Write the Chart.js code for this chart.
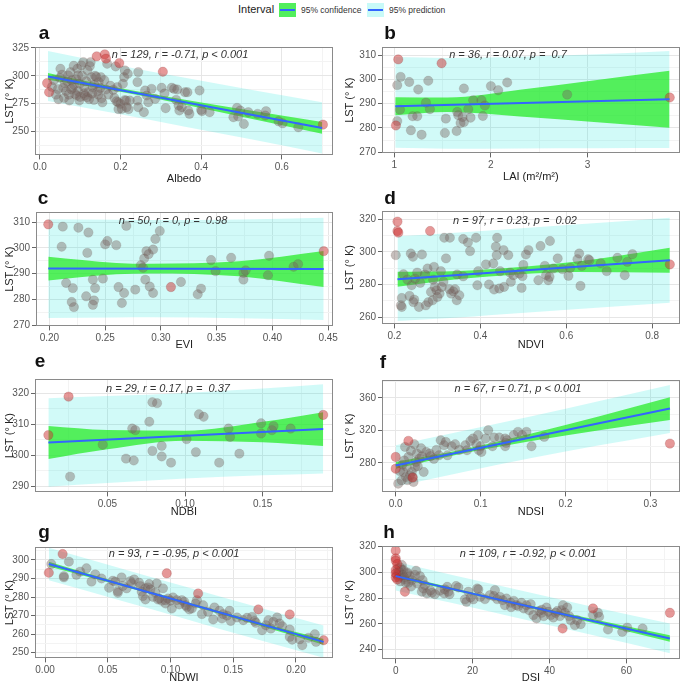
<!DOCTYPE html>
<html>
<head>
<meta charset="utf-8">
<script src="https://cdn.jsdelivr.net/npm/chart.js@4.4.1/dist/chart.umd.min.js"></script>
<style>
  body { margin: 0; background: #fff; overflow: hidden; }
  #wrap { position: relative; width: 685px; height: 684px; font-family: 'Liberation Sans', Arial, Helvetica, sans-serif; }
  #wrap canvas { position: absolute; }
  .txt { position: absolute; white-space: pre; line-height: 1; }
  .letter { position: absolute; font-size: 19px; font-weight: bold; color: #111; line-height: 1; transform: translateX(-50%); }
  .stat { position: absolute; font-size: 11px; font-style: italic; color: #333; white-space: pre; transform: translate(-50%, -50%); line-height: 1; }
  .sw { position: absolute; top: 3px; height: 14px; }
  .sw i { position: absolute; left: 1px; right: 1px; top: 6px; height: 2px; background: #3366ff; }
</style>
</head>
<body>
<div id="wrap">
  <div class="txt" style="left:238px;top:4px;font-size:11px;color:#222">Interval</div>
  <div class="sw" style="left:279px;width:17px;background:rgb(82,239,92)"><i></i></div>
  <div class="txt" style="left:301px;top:6px;font-size:8.5px;color:#333">95% confidence</div>
  <div class="sw" style="left:367px;width:17px;background:rgb(200,250,248)"><i></i></div>
  <div class="txt" style="left:389px;top:6px;font-size:8.5px;color:#333">95% prediction</div>
</div>
<script>
// ---------- data ----------
// a : Albedo
const aPts = [[0.046,278.9],[0.05,298.2],[0.051,306.3],[0.058,289.2],[0.062,293.4],[0.065,286.1],[0.07,300.3],[0.073,277.7],[0.076,303.3],[0.079,295.8],[0.081,289.2],[0.084,309],[0.087,283.7],[0.091,282.2],[0.093,306.3],[0.095,300.3],[0.098,277.7],[0.099,292.8],[0.103,309.3],[0.108,312.3],[0.109,284.3],[0.112,282.2],[0.117,280.7],[0.12,285.2],[0.124,308.7],[0.126,312.3],[0.128,298.8],[0.131,289.8],[0.134,278.3],[0.137,300],[0.143,286.1],[0.146,294.3],[0.151,298.8],[0.153,279.8],[0.167,310.8],[0.164,287.6],[0.182,287.3],[0.188,308.4],[0.192,289.8],[0.194,276.2],[0.2,274.7],[0.203,270.2],[0.206,292.8],[0.209,298.8],[0.211,304.8],[0.214,277.7],[0.215,271.7],[0.218,301.8],[0.223,277.7],[0.242,294.3],[0.244,303.3],[0.242,277.7],[0.244,271.7],[0.258,267.2],[0.261,286.7],[0.265,282.2],[0.269,276.2],[0.277,288.2],[0.286,279.2],[0.302,289.2],[0.309,284],[0.312,270.8],[0.327,289.2],[0.333,288.2],[0.338,278.3],[0.341,287.6],[0.344,273.2],[0.346,268.7],[0.352,271.7],[0.36,285.2],[0.366,285.2],[0.368,268.7],[0.371,265.7],[0.396,286.7],[0.4,269.3],[0.402,268.1],[0.421,267.2],[0.48,262.7],[0.489,271.1],[0.492,263.3],[0.497,268.7],[0.506,256.6],[0.517,267.2],[0.54,265.7],[0.559,264.2],[0.561,268.1],[0.592,259],[0.602,257.2],[0.641,253.6],
  [0.03,290],[0.035,296],[0.04,283],[0.045,288],[0.055,301],[0.06,280],[0.068,295],[0.072,283],[0.078,288],[0.085,292],[0.09,297],[0.095,286],[0.1,281],[0.105,300],[0.11,290],[0.115,295],[0.118,305],[0.122,279],[0.13,284],[0.135,292],[0.14,299],[0.145,283],[0.15,289],[0.155,276],[0.16,296],[0.17,283],[0.175,291],[0.185,280],[0.19,277],[0.195,270],[0.21,278],[0.22,270]];
const aOut = [[0.018,293.4],[0.023,285.2],[0.141,317.5],[0.161,319.3],[0.164,315.4],[0.197,311.4],[0.305,303.6],[0.702,256]];
const aFitX = [0.02, 0.70];
const aFitY = [299.4, 253.0];
const aBandX = [0.02, 0.19, 0.36, 0.53, 0.70];
const aConfHi = [302.4, 289.4, 278.4, 268.3, 258.3];
const aConfLo = [296.4, 286.2, 274.0, 260.9, 247.7];
const aPredHi = [322.2, 309.6, 298.2, 286.9, 276.1];
const aPredLo = [277.2, 266.0, 254.2, 242.3, 230.0];
const aXTicks = ['0.0', '0.2', '0.4', '0.6'];
const aYTicks = ['250', '275', '300', '325'];
const aXRange = [-0.012, 0.727];
const aYRange = [228.3, 325.9];

// b : LAI
const bPts = [[1.031,297.6],[1.031,282.8],[1.059,287.5],[1.066,301],[1.172,279],[1.155,298.9],[1.19,284.8],[1.238,284.8],[1.248,295.8],[1.283,277.2],[1.328,290.4],[1.352,299.4],[1.369,287.7],[1.524,277.9],[1.534,283.8],[1.645,278.7],[1.652,286.6],[1.662,285.2],[1.686,282],[1.707,284.5],[1.721,282.4],[1.721,296.2],[1.766,287.7],[1.79,284.2],[1.817,291.4],[1.903,291.4],[1.917,284.9],[1.938,289.2],[2.0,297.2],[2.076,295.5],[2.169,298.7],[2.79,293.7]];
const bOut = [[1.017,281],[1.041,308.2],[1.49,306.6],[3.852,292.5]];
const bFitX = [1.01, 3.85];
const bFitY = [288.9, 291.8];
const bBandX = [1.01, 1.55, 2.3, 3.1, 3.85];
const bConfHi = [292.6, 292.5, 295.7, 299.7, 303.5];
const bConfLo = [285.2, 286.5, 284.7, 282.3, 280.1];
const bPredHi = [309.2, 308.8, 309.3, 310.3, 311.7];
const bPredLo = [271.8, 271.4, 271.5, 271.6, 271.7];
const bXTicks = ['1', '2', '3'];
const bYTicks = ['270', '280', '290', '300', '310'];
const bXRange = [0.873, 3.955];
const bYRange = [269.5, 313.3];

// c : EVI
const cPts = [[0.212,308.3],[0.211,300.5],[0.215,286.4],[0.221,284.4],[0.22,279],[0.222,277],[0.226,307.9],[0.235,306],[0.234,298.1],[0.233,281.2],[0.239,287.7],[0.24,279.6],[0.239,277.9],[0.241,284.4],[0.248,288.1],[0.25,301.4],[0.252,302.7],[0.26,301.1],[0.262,284.8],[0.265,278.6],[0.267,282.5],[0.269,308.6],[0.277,283.8],[0.282,293.3],[0.284,292.3],[0.285,295.9],[0.286,287.7],[0.287,298.8],[0.289,297.6],[0.293,282.5],[0.293,299.4],[0.295,303.5],[0.299,306.6],[0.318,286.8],[0.333,282],[0.336,284.2],[0.345,295.3],[0.349,291],[0.363,296.2],[0.374,290.3],[0.374,287.7],[0.376,291.3],[0.396,289.4],[0.397,297],[0.419,292.7],[0.423,293.7],[0.29,285]];
const cOut = [[0.199,309.2],[0.309,284.8],[0.446,298.8]];
const cFitX = [0.199, 0.446];
const cFitY = [292.0, 291.8];
const cBandX = [0.199, 0.26, 0.29, 0.37, 0.446];
const cConfHi = [296.6, 294.2, 293.9, 294.8, 298.8];
const cConfLo = [287.4, 289.8, 290.1, 289.0, 284.8];
const cPredHi = [311.2, 311.0, 310.9, 311.1, 311.8];
const cPredLo = [272.8, 273.0, 273.1, 272.7, 272.0];
const cXTicks = ['0.20', '0.25', '0.30', '0.35', '0.40', '0.45'];
const cYTicks = ['270', '280', '290', '300', '310'];
const cXRange = [0.188, 0.454];
const cYRange = [269.5, 314.0];

// d : NDVI
const dPts = [[0.203,298],[0.217,266.2],[0.217,271.7],[0.221,286.3],[0.215,267.2],[0.235,273],[0.238,299],[0.24,279.5],[0.243,297],[0.244,269.2],[0.246,270.7],[0.248,283.6],[0.253,287.3],[0.257,266.2],[0.264,298.4],[0.271,286.1],[0.273,267.2],[0.277,289.8],[0.279,269.2],[0.285,275.4],[0.289,270.3],[0.292,290.8],[0.294,278.5],[0.298,276.4],[0.3,272.3],[0.305,274.4],[0.308,288.2],[0.31,278.5],[0.314,281.6],[0.316,308.7],[0.329,308.7],[0.328,277.1],[0.332,274.4],[0.337,275.8],[0.341,277.1],[0.345,270.3],[0.346,286.1],[0.351,273.4],[0.36,307.9],[0.371,305.8],[0.376,300.5],[0.39,308.7],[0.393,279.5],[0.395,288.2],[0.413,292.3],[0.43,292.9],[0.432,276.9],[0.436,303.2],[0.438,298],[0.439,308.7],[0.444,277.5],[0.446,288.2],[0.454,301.1],[0.455,278.5],[0.465,298],[0.469,287.3],[0.471,281.6],[0.477,285.7],[0.491,286.7],[0.496,277.9],[0.498,285.1],[0.506,298.4],[0.512,301.1],[0.535,282.6],[0.54,303.6],[0.55,291.4],[0.553,285.7],[0.558,282.6],[0.561,284.7],[0.562,306.7],[0.57,289.8],[0.591,289.4],[0.605,285.3],[0.609,290.2],[0.626,295.5],[0.63,299],[0.633,279.1],[0.636,291.4],[0.651,295.5],[0.654,294.9],[0.694,288.2],[0.719,296.4],[0.736,285.7],[0.742,293.9],[0.754,298.6],
  [0.23,283],[0.26,281],[0.29,283],[0.32,296],[0.36,285],[0.42,280],[0.5,292],[0.58,296],[0.68,293]];
const dOut = [[0.207,318.6],[0.207,312.8],[0.209,311.8],[0.283,312.8],[0.841,292.3]];
const dFitX = [0.207, 0.841];
const dFitY = [283.2, 294.9];
const dBandX = [0.207, 0.35, 0.42, 0.62, 0.841];
const dConfHi = [287.8, 288.3, 289.3, 293.9, 302.6];
const dConfLo = [278.6, 283.3, 284.9, 287.7, 287.2];
const dPredHi = [309.6, 311.9, 313.1, 316.8, 321.0];
const dPredLo = [257.6, 259.7, 261.1, 264.8, 268.8];
const dXTicks = ['0.2', '0.4', '0.6', '0.8'];
const dYTicks = ['260', '280', '300', '320'];
const dXRange = [0.171, 0.864];
const dYRange = [255.5, 325.1];

// e : NDBI
const ePts = [[0.026,293.1],[0.047,303.4],[0.062,298.9],[0.066,308.6],[0.068,308.1],[0.067,298.3],[0.077,310.8],[0.079,317.1],[0.082,316.8],[0.079,301.4],[0.085,303],[0.085,299.6],[0.091,297.6],[0.101,305.2],[0.107,301],[0.109,313.2],[0.112,312.4],[0.122,297.6],[0.128,308.6],[0.129,305.9],[0.135,300.5],[0.149,310.3],[0.149,307],[0.156,308.1],[0.157,309.4],[0.168,308.6]];
const eOut = [[0.012,306.5],[0.025,318.9],[0.189,313]];
const eFitX = [0.012, 0.189];
const eFitY = [304.1, 308.5];
const eBandX = [0.012, 0.05, 0.10, 0.15, 0.189];
const eConfHi = [309.4, 308.1, 307.9, 310.8, 313.9];
const eConfLo = [298.8, 301.9, 304.7, 304.2, 303.0];
const ePredHi = [318.4, 319.1, 320.1, 321.5, 322.9];
const ePredLo = [289.8, 291.0, 292.5, 293.5, 294.1];
const eXTicks = ['0.05', '0.10', '0.15'];
const eYTicks = ['290', '300', '310', '320'];
const eXRange = [0.0034, 0.1953];
const eYRange = [288.0, 324.6];

// f : NDSI
const fPts = [[0.003,254.6],[0.007,258.7],[0.009,268.9],[0.011,299.7],[0.012,262.8],[0.013,275.1],[0.015,287.4],[0.017,264.8],[0.019,268.9],[0.02,262.8],[0.021,256.6],[0.022,303],[0.023,275.1],[0.024,281.2],[0.025,291.5],[0.028,285.3],[0.031,288.2],[0.033,268.9],[0.036,293.5],[0.04,291.5],[0.041,288.2],[0.051,289.4],[0.053,307.9],[0.057,301.7],[0.059,305.8],[0.061,289.4],[0.066,300.5],[0.07,303],[0.082,301.7],[0.084,295.6],[0.091,310],[0.095,303],[0.097,314.1],[0.098,295.6],[0.1,300.5],[0.101,293.5],[0.106,310],[0.109,320.2],[0.114,300.5],[0.116,311.2],[0.122,311.2],[0.129,310],[0.129,300.5],[0.13,304.6],[0.131,307.9],[0.139,314.1],[0.144,318.2],[0.149,314.1],[0.154,318.2],[0.16,300.5],[0.175,312],
  [0.005,270],[0.008,278],[0.01,283],[0.014,259],[0.018,295],[0.026,276],[0.03,298],[0.045,285],[0.048,296],[0.075,296],[0.088,307]];
const fOut = [[0.0,287.4],[0.0,273],[0.015,307.1],[0.02,262],[0.323,303.8]];
const fFitX = [0.0, 0.323];
const fFitY = [277.0, 346.8];
const fBandX = [0.0, 0.08, 0.16, 0.24, 0.323];
const fConfHi = [281.2, 296.8, 316.1, 337.3, 360.6];
const fConfLo = [273.0, 291.8, 307.1, 320.3, 332.8];
const fPredHi = [301.9, 319.5, 337.2, 356.0, 375.6];
const fPredLo = [251.0, 269.0, 286.0, 301.6, 316.8];
const fXTicks = ['0.0', '0.1', '0.2', '0.3'];
const fYTicks = ['280', '320', '360'];
const fXRange = [-0.0161, 0.3345];
const fYRange = [243.9, 381.8];

// g : NDWI
const gPts = [[0.005,297.8],[0.015,291.3],[0.015,290.6],[0.019,299.1],[0.028,293.7],[0.033,295.5],[0.037,288.3],[0.04,292.2],[0.051,285],[0.054,288.8],[0.056,288.3],[0.058,283.2],[0.058,282.3],[0.061,290.6],[0.065,284.7],[0.068,288.6],[0.069,287.4],[0.071,289.5],[0.075,287.7],[0.076,285.9],[0.077,282.9],[0.078,280.5],[0.08,284.7],[0.08,278.7],[0.082,285.2],[0.083,287],[0.084,284.1],[0.086,280.1],[0.088,282.3],[0.089,287.4],[0.09,278.7],[0.091,279.2],[0.093,278],[0.094,284.7],[0.096,276.5],[0.096,278.3],[0.098,279.2],[0.1,278],[0.101,273.8],[0.102,279.8],[0.105,278.3],[0.109,278.3],[0.111,277.4],[0.112,275.6],[0.113,274.7],[0.115,273.3],[0.117,273.8],[0.12,276.5],[0.121,278.3],[0.125,270.8],[0.126,275.6],[0.134,267.9],[0.135,274.4],[0.139,272.6],[0.141,268.4],[0.142,270.8],[0.147,272.6],[0.148,267.1],[0.153,269],[0.158,267.5],[0.161,268.8],[0.165,269.3],[0.167,267.1],[0.168,266.1],[0.173,262.1],[0.176,264.8],[0.178,267.5],[0.182,266.6],[0.185,269],[0.187,265.7],[0.189,264.3],[0.195,262.5],[0.195,258.5],[0.197,257],[0.203,257.2],[0.205,254],[0.215,259.9],[0.216,255.8],
  [0.025,292],[0.045,290],[0.062,286],[0.107,276],[0.13,272],[0.145,270],[0.18,263],[0.21,258]];
const gOut = [[0.003,293.1],[0.014,303.2],[0.097,292.8],[0.122,281.9],[0.17,273.3],[0.195,270.6],[0.222,256.7]];
const gFitX = [0.003, 0.222];
const gFitY = [297.8, 255.8];
const gBandX = [0.003, 0.06, 0.11, 0.17, 0.222];
const gConfHi = [299.1, 287.6, 277.9, 266.6, 257.3];
const gConfLo = [296.5, 286.2, 276.7, 264.8, 254.3];
const gPredHi = [306.6, 295.6, 286.0, 274.5, 264.6];
const gPredLo = [289.0, 278.2, 268.6, 256.9, 247.2];
const gXTicks = ['0.00', '0.05', '0.10', '0.15', '0.20'];
const gYTicks = ['250', '260', '270', '280', '290', '300'];
const gXRange = [-0.008, 0.2295];
const gYRange = [246.9, 307.0];

// h : DSI
const hPts = [[0.7,300.5],[1.1,303.9],[1.4,297.1],[1.6,305.7],[2,301.8],[2.3,294.5],[2.9,299.2],[3.3,291.9],[3.7,297.1],[4.2,294],[5.3,301.3],[5.6,291.4],[6.3,297.1],[6.8,285],[7,294],[7.2,287.5],[7.6,290.1],[8.1,283.6],[9.4,284.2],[10.2,283.1],[11.5,285.7],[12.6,283.6],[12.8,286.8],[13.4,288.8],[13.7,285],[15.7,289.4],[16.3,288.3],[18,279],[18.4,277.1],[18.9,285],[19.5,280.5],[20.2,279],[21.2,287.5],[21.5,286.8],[23.2,279.2],[24.5,282.3],[25.5,281.6],[25.8,286.2],[26.4,279.2],[27.1,281],[27.8,278.4],[28.4,274.5],[28.8,279.7],[29.9,276.4],[30.7,277.9],[31.3,274.5],[31.9,273.8],[32.7,276.4],[33.3,272],[34,274.5],[34.7,270.6],[35.1,275.3],[35.8,266.8],[36.6,264.2],[37.3,270.1],[37.9,268.6],[38.5,266],[39.2,272.7],[39.7,269.4],[40.3,266.8],[41,264.9],[41.6,268.6],[42.7,266],[43.1,270.6],[43.5,274.5],[44,268.6],[44.6,272.7],[45.1,266],[45.5,262.9],[46.6,259],[47.2,262.9],[48.1,259.7],[51.3,266.8],[52.6,268.6],[52.9,265.5],[55.2,255.6],[58.9,253.8],[60.2,257.1],[64.2,256.4],
  [0.3,298],[0.5,303],[0.8,296],[1,300],[1.2,293],[1.5,302],[1.8,298],[2.2,296],[2.6,292],[3,300],[4,289],[5,298],[9,286],[14,283],[22,281],[30,273],[38,271],[42,270]];
const hOut = [[0,316.9],[0,310.9],[0,309.1],[0.4,306.5],[0,301.8],[0,299.2],[0,296.1],[0.4,294.5],[2.4,285],[43.4,256.4],[51.3,272],[71.3,268.6]];
const hFitX = [0.0, 71.3];
const hFitY = [297.1, 248.6];
const hBandX = [0.0, 15, 30, 50, 71.3];
const hConfHi = [298.6, 287.9, 277.6, 264.5, 251.1];
const hConfLo = [295.6, 285.9, 275.8, 261.7, 246.1];
const hPredHi = [308.2, 297.8, 287.6, 274.1, 260.3];
const hPredLo = [286.0, 276.0, 265.8, 252.1, 237.2];
const hXTicks = ['0', '20', '40', '60'];
const hYTicks = ['240', '260', '280', '300', '320'];
const hXRange = [-3.56, 73.85];
const hYRange = [232.4, 320.5];

// ---------- layout of the 8 panels ----------
const panels = [
  {k:'a', pts:aPts, out:aOut, fx:aFitX, fy:aFitY, bx:aBandX, ch:aConfHi, cl:aConfLo, ph:aPredHi, pl:aPredLo, xt:aXTicks, yt:aYTicks, xr:aXRange, yr:aYRange,
   xTitle:'Albedo', stat:'n = 129, r = -0.71, p < 0.001', l:35, r:333, t:47, b:155, titleY:179, let:[44,23], st:[180,54]},
  {k:'b', pts:bPts, out:bOut, fx:bFitX, fy:bFitY, bx:bBandX, ch:bConfHi, cl:bConfLo, ph:bPredHi, pl:bPredLo, xt:bXTicks, yt:bYTicks, xr:bXRange, yr:bYRange,
   xTitle:'LAI (m\u00B2/m\u00B2)', stat:'n = 36, r = 0.07, p =  0.7', l:382, r:680, t:47, b:153, titleY:177, let:[390,23], st:[508,54]},
  {k:'c', pts:cPts, out:cOut, fx:cFitX, fy:cFitY, bx:cBandX, ch:cConfHi, cl:cConfLo, ph:cPredHi, pl:cPredLo, xt:cXTicks, yt:cYTicks, xr:cXRange, yr:cYRange,
   xTitle:'EVI', stat:'n = 50, r = 0, p =  0.98', l:36, r:333, t:212, b:326, titleY:345, let:[43,188], st:[173,220]},
  {k:'d', pts:dPts, out:dOut, fx:dFitX, fy:dFitY, bx:dBandX, ch:dConfHi, cl:dConfLo, ph:dPredHi, pl:dPredLo, xt:dXTicks, yt:dYTicks, xr:dXRange, yr:dYRange,
   xTitle:'NDVI', stat:'n = 97, r = 0.23, p =  0.02', l:382, r:680, t:211, b:324, titleY:345, let:[390,188], st:[515,220]},
  {k:'e', pts:ePts, out:eOut, fx:eFitX, fy:eFitY, bx:eBandX, ch:eConfHi, cl:eConfLo, ph:ePredHi, pl:ePredLo, xt:eXTicks, yt:eYTicks, xr:eXRange, yr:eYRange,
   xTitle:'NDBI', stat:'n = 29, r = 0.17, p =  0.37', l:35, r:333, t:379, b:492, titleY:512, let:[40,351], st:[168,388]},
  {k:'f', pts:fPts, out:fOut, fx:fFitX, fy:fFitY, bx:fBandX, ch:fConfHi, cl:fConfLo, ph:fPredHi, pl:fPredLo, xt:fXTicks, yt:fYTicks, xr:fXRange, yr:fYRange,
   xTitle:'NDSI', stat:'n = 67, r = 0.71, p < 0.001', l:382, r:680, t:380, b:492, titleY:512, let:[383,352], st:[518,388]},
  {k:'g', pts:gPts, out:gOut, fx:gFitX, fy:gFitY, bx:gBandX, ch:gConfHi, cl:gConfLo, ph:gPredHi, pl:gPredLo, xt:gXTicks, yt:gYTicks, xr:gXRange, yr:gYRange,
   xTitle:'NDWI', stat:'n = 93, r = -0.95, p < 0.001', l:35, r:333, t:547, b:658, titleY:678, let:[44,522], st:[174,553]},
  {k:'h', pts:hPts, out:hOut, fx:hFitX, fy:hFitY, bx:hBandX, ch:hConfHi, cl:hConfLo, ph:hPredHi, pl:hPredLo, xt:hXTicks, yt:hYTicks, xr:hXRange, yr:hYRange,
   xTitle:'DSI', stat:'n = 109, r = -0.92, p < 0.001', l:382, r:680, t:546, b:659, titleY:678, let:[389,522], st:[528,553]}
];

const FONT = "'Liberation Sans', Arial, Helvetica, sans-serif";
const wrap = document.getElementById('wrap');

// major ticks from the label strings, minor ones half way between
function tickList(labels, min, max) {
  const vals = labels.map(Number);
  const step = vals[1] - vals[0];
  const out = [];
  for (let k = -2; k <= 2 * (vals.length - 1) + 2; k++) {
    const v = vals[0] + k * step / 2;
    if (v < min - 1e-9 || v > max + 1e-9) continue;
    const minor = k % 2 !== 0;
    const idx = k / 2;
    out.push({ value: v, minor: minor, txt: (!minor && idx >= 0 && idx < labels.length) ? labels[idx] : '' });
  }
  return out;
}

function axis(p, horizontal) {
  const ticks = horizontal ? p.xt : p.yt;
  const range = horizontal ? p.xr : p.yr;
  return {
    type: 'linear',
    min: range[0],
    max: range[1],
    afterBuildTicks: (ax) => { ax.ticks = tickList(ticks, range[0], range[1]); },
    afterFit: (ax) => {
      if (horizontal) ax.height = p.titleY + 6.6 - p.b;
      else ax.width = p.l - (p.l < 340 ? 0 : 340);
    },
    ticks: {
      autoSkip: false, maxRotation: 0, padding: 2, color: '#555',
      font: { size: 10, family: FONT },
      callback: (v, i, t) => t[i].minor ? '' : t[i].txt
    },
    grid: {
      color: (c) => (c.tick && c.tick.minor) ? '#f3f3f3' : '#e6e6e6',
      tickColor: (c) => (c.tick && c.tick.minor) ? 'rgba(0,0,0,0)' : '#666',
      tickLength: 4,
      lineWidth: 1
    },
    border: { display: false },
    title: {
      display: true,
      text: horizontal ? p.xTitle : 'LST (\u00B0 K)',
      color: '#222',
      font: { size: 11, family: FONT },
      padding: horizontal ? { top: 0, bottom: 0 } : { top: 3, bottom: 0 }
    }
  };
}

const boxPlugin = {
  id: 'box',
  afterDatasetsDraw(chart) {
    const a = chart.chartArea, ctx = chart.ctx;
    ctx.save();
    ctx.strokeStyle = '#8a8a8a';
    ctx.lineWidth = 1;
    ctx.strokeRect(Math.round(a.left) + 0.5, Math.round(a.top) + 0.5, Math.round(a.right - a.left) - 1, Math.round(a.bottom - a.top) - 1);
    ctx.restore();
  }
};

function xy(xs, ys) { return xs.map((x, i) => ({ x: x, y: ys[i] })); }

panels.forEach((p) => {
  const colLeft = p.l < 340 ? 0 : 340;
  const colRight = colLeft === 0 ? 340 : 685;
  const padTop = 10;
  const xH = p.titleY + 6.6 - p.b;
  const W = colRight - colLeft;
  const H = Math.round(padTop + (p.b - p.t) + xH);

  const cv = document.createElement('canvas');
  cv.width = W; cv.height = H;
  cv.style.left = colLeft + 'px';
  cv.style.top = (p.t - padTop) + 'px';
  cv.style.width = W + 'px';
  cv.style.height = H + 'px';
  wrap.appendChild(cv);

  const band = { showLine: true, pointRadius: 0, borderWidth: 0, borderColor: 'rgba(0,0,0,0)', cubicInterpolationMode: 'monotone' };

  new Chart(cv, {
    type: 'scatter',
    data: {
      datasets: [
        { data: xy(p.fx, p.fy), showLine: true, borderColor: '#3366ff', borderWidth: 2, pointRadius: 0, order: 0 },
        { data: p.out.map(d => ({ x: d[0], y: d[1] })), pointRadius: 4.7, backgroundColor: 'rgba(205,50,50,0.5)', borderColor: 'rgba(130,40,40,0.3)', borderWidth: 0.6, order: 1 },
        { data: p.pts.map(d => ({ x: d[0], y: d[1] })), pointRadius: 4.7, backgroundColor: 'rgba(120,100,95,0.42)', borderColor: 'rgba(90,70,65,0.22)', borderWidth: 0.6, order: 1 },
        Object.assign({ data: xy(p.bx, p.ch), fill: '+1', backgroundColor: 'rgba(40,235,40,0.75)', order: 2 }, band),
        Object.assign({ data: xy(p.bx, p.cl), fill: false, order: 2 }, band),
        Object.assign({ data: xy(p.bx, p.ph), fill: '+1', backgroundColor: 'rgba(0,225,215,0.18)', order: 3 }, band),
        Object.assign({ data: xy(p.bx, p.pl), fill: false, order: 3 }, band)
      ]
    },
    options: {
      responsive: false,
      animation: false,
      devicePixelRatio: 1,
      layout: { padding: { top: padTop, right: colRight - p.r, left: 0, bottom: 0 } },
      plugins: { legend: { display: false }, tooltip: { enabled: false } },
      scales: { x: axis(p, true), y: axis(p, false) }
    },
    plugins: [boxPlugin]
  });

  const letter = document.createElement('div');
  letter.className = 'letter';
  letter.textContent = p.k;
  letter.style.left = p.let[0] + 'px';
  letter.style.top = p.let[1] + 'px';
  wrap.appendChild(letter);

  const stat = document.createElement('div');
  stat.className = 'stat';
  stat.textContent = p.stat;
  stat.style.left = p.st[0] + 'px';
  stat.style.top = p.st[1] + 'px';
  wrap.appendChild(stat);
});
</script>
</body>
</html>
